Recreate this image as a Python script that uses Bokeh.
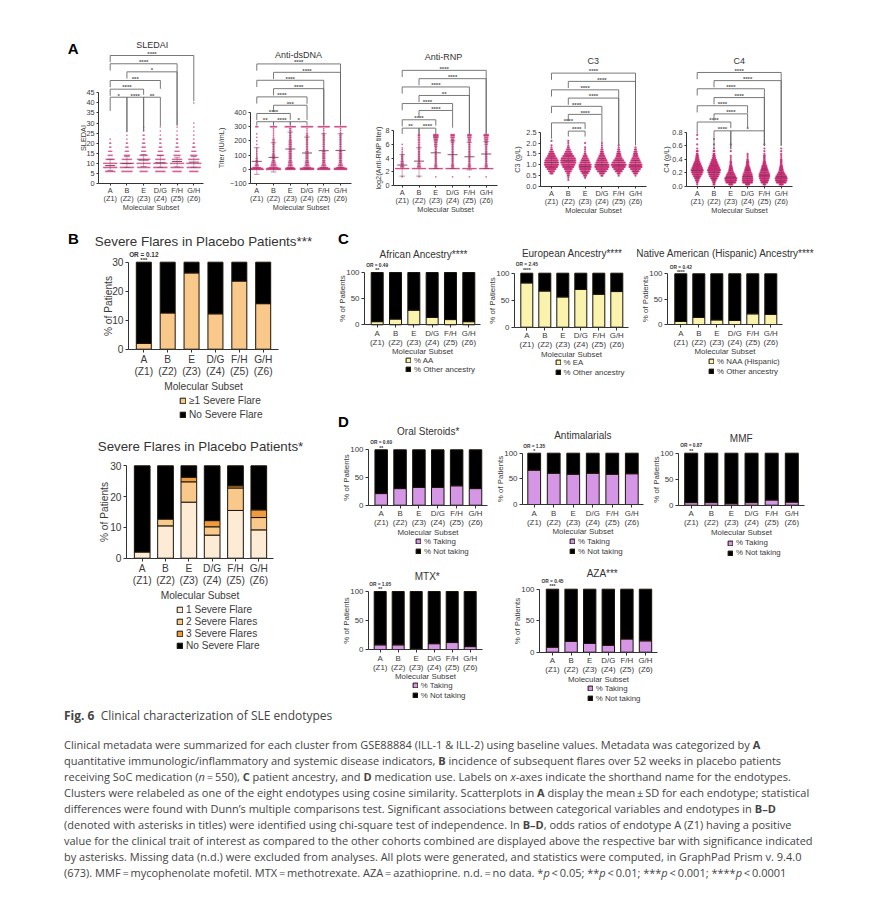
from bokeh.plotting import figure
from bokeh.models import Label, Legend, LegendItem, FixedTicker, Div, ColumnDataSource, Range1d, LinearAxis
from bokeh.layouts import row, column
from bokeh.embed import file_html
from bokeh.resources import INLINE
from bokeh.core.properties import value

FONT = "Liberation Sans"
INK = "#3a3a3a"
categories = ["A", "B", "E", "D/G", "F/H", "G/H"]
zones = ["(Z1)", "(Z2)", "(Z3)", "(Z4)", "(Z5)", "(Z6)"]

# ---- Panel A: swarm profiles (value levels, and dots per level in each subset), mean and SD
sledai_levels = [6, 8, 10, 12, 14, 16, 18, 20, 22, 24, 26, 28, 30, 40]
sledai_counts = [
    [10, 14, 14, 9, 5, 4, 2, 2, 1, 0, 0, 0, 0, 0],
    [11, 14, 14, 10, 6, 4, 3, 2, 1, 1, 0, 0, 0, 0],
    [8, 13, 14, 13, 8, 5, 4, 3, 2, 2, 1, 1, 0, 0],
    [10, 14, 14, 10, 7, 5, 3, 2, 2, 1, 1, 1, 0, 0],
    [9, 13, 14, 10, 7, 5, 3, 2, 2, 1, 1, 1, 0, 0],
    [9, 14, 15, 11, 7, 5, 3, 2, 1, 1, 1, 1, 1, 1],
]
sledai_mean = [8.9, 9.9, 11.6, 10.3, 10.9, 10.6]
sledai_hi = [12.0, 13.4, 14.4, 13.9, 13.0, 13.4]
sledai_lo = [6.4, 8.0, 8.4, 8.0, 8.2, 8.0]

dsdna_levels = [0, 6, 12, 25, 37, 50, 62, 75, 87, 100, 112, 125, 137, 150, 162, 175, 187, 200, 212, 225, 237, 250, 262, 275, 287, 300]
dsdna_counts = [
    [14, 12, 8, 4, 3, 2, 2, 2, 1, 1, 1, 1, 1, 1, 0, 1, 0, 1, 0, 1, 0, 1, 0, 0, 0, 3],
    [15, 14, 9, 6, 5, 4, 3, 3, 3, 3, 2, 2, 2, 2, 2, 2, 2, 2, 2, 1, 1, 1, 1, 1, 1, 7],
    [10, 10, 7, 5, 4, 4, 3, 3, 3, 3, 3, 3, 3, 3, 3, 3, 3, 3, 2, 2, 2, 2, 2, 2, 2, 11],
    [14, 14, 8, 5, 4, 4, 3, 3, 3, 3, 3, 3, 2, 2, 2, 2, 2, 2, 2, 2, 2, 2, 1, 1, 1, 12],
    [13, 12, 8, 5, 4, 3, 3, 3, 3, 3, 3, 3, 2, 2, 2, 2, 2, 2, 2, 2, 2, 2, 1, 1, 1, 12],
    [13, 13, 8, 5, 4, 3, 3, 3, 3, 3, 3, 3, 2, 2, 2, 2, 2, 2, 2, 2, 2, 2, 1, 1, 1, 12],
]
dsdna_mean = [56, 84, 143, 115, 131, 133]
dsdna_hi = [152, 187, 262, 227, 250, 250]
dsdna_lo = [-35, -19, 5, 3, 10, 12]

rnp_levels = [1.3, 2.5, 2.75, 3, 3.25, 3.5, 3.75, 4, 4.25, 4.5, 4.75, 5, 5.25, 5.5, 5.75, 6, 6.25, 6.5, 6.75, 7, 7.25, 7.4]
rnp_counts = [
    [1, 14, 4, 3, 3, 3, 2, 2, 2, 2, 1, 1, 1, 1, 0, 1, 0, 0, 0, 0, 0, 0],
    [1, 14, 4, 3, 3, 2, 2, 2, 2, 2, 2, 2, 2, 2, 2, 2, 2, 2, 2, 2, 2, 2],
    [1, 14, 3, 3, 2, 2, 2, 2, 2, 2, 2, 2, 2, 2, 3, 3, 3, 4, 4, 5, 5, 5],
    [1, 14, 3, 3, 2, 2, 2, 2, 2, 2, 2, 2, 2, 2, 2, 2, 3, 3, 3, 4, 4, 4],
    [1, 14, 3, 3, 2, 2, 2, 2, 2, 2, 2, 2, 2, 2, 2, 2, 2, 3, 3, 4, 4, 4],
    [1, 14, 3, 3, 2, 2, 2, 2, 2, 2, 2, 2, 2, 2, 2, 3, 3, 3, 4, 4, 5, 5],
]
rnp_mean = [3.0, 3.57, 4.77, 4.5, 4.2, 4.6]
rnp_hi = [4.5, 5.5, 7.1, 6.5, 6.3, 6.4]
rnp_lo = [1.4, 1.4, 2.5, 2.5, 2.3, 2.5]

c3_levels = [0.3, 0.4, 0.5, 0.6, 0.7, 0.8, 0.9, 1.0, 1.1, 1.2, 1.3, 1.4, 1.5, 1.6, 1.7, 1.8, 1.9, 2.0, 2.1]
c3_counts = [
    [0, 0, 0, 3, 6, 9, 12, 14, 14, 13, 11, 8, 6, 4, 2, 1, 1, 0, 1],
    [1, 1, 2, 3, 6, 8, 11, 13, 15, 15, 14, 11, 8, 6, 4, 2, 1, 1, 1],
    [0, 1, 3, 6, 9, 11, 12, 12, 10, 8, 6, 4, 2, 1, 1, 1, 0, 1, 0],
    [0, 0, 2, 5, 9, 12, 14, 14, 12, 10, 8, 6, 4, 3, 2, 1, 1, 1, 0],
    [0, 0, 1, 3, 7, 10, 13, 15, 13, 10, 7, 5, 4, 3, 2, 1, 1, 0, 0],
    [0, 0, 1, 4, 7, 10, 13, 13, 11, 9, 7, 5, 4, 3, 2, 1, 0, 0, 0],
]
c3_mean = [1.10, 1.17, 0.92, 1.0, 0.98, 0.95]
c3_hi = [1.35, 1.42, 1.2, 1.28, 1.22, 1.2]
c3_lo = [0.87, 0.9, 0.65, 0.72, 0.74, 0.7]

c4_levels = [0.03, 0.06, 0.09, 0.12, 0.15, 0.18, 0.21, 0.24, 0.27, 0.30, 0.33, 0.36, 0.39, 0.42, 0.45, 0.48, 0.52, 0.56, 0.62, 0.70, 0.76]
c4_counts = [
    [1, 2, 4, 6, 9, 12, 14, 15, 13, 11, 9, 7, 5, 4, 3, 2, 2, 1, 1, 1, 1],
    [2, 3, 5, 8, 11, 13, 15, 16, 14, 12, 10, 8, 6, 4, 3, 2, 2, 1, 1, 1, 0],
    [5, 12, 14, 15, 12, 10, 7, 5, 4, 3, 2, 2, 1, 1, 1, 0, 1, 0, 1, 0, 0],
    [5, 12, 13, 13, 12, 11, 9, 7, 6, 4, 3, 3, 2, 1, 1, 1, 0, 0, 0, 0, 0],
    [3, 8, 10, 12, 13, 13, 11, 9, 7, 6, 4, 3, 2, 2, 2, 1, 1, 1, 1, 0, 0],
    [5, 12, 14, 15, 13, 10, 7, 5, 4, 3, 2, 2, 2, 1, 1, 1, 1, 1, 0, 0, 0],
]
c4_mean = [0.23, 0.21, 0.13, 0.15, 0.16, 0.14]
c4_hi = [0.32, 0.31, 0.2, 0.24, 0.26, 0.2]
c4_lo = [0.13, 0.11, 0.06, 0.05, 0.06, 0.07]

# Significance brackets: left subset, right subset, level, stars, left foot, right foot (None = short foot)
sledai_brackets = [
    (0, 5, 63.5, "****", None, 40.8), (0, 4, 59.4, "****", None, 28.8), (1, 4, 55.4, "*", None, 28.8),
    (0, 3, 51.1, "***", None, 47.0), (0, 2, 46.8, "****", None, 44.0),
    (0, 1, 42.8, "*", 36.0, 25.5), (1, 2, 42.8, "****", 25.5, 26.0), (2, 3, 42.8, "**", 26.0, 28.5),
]
dsdna_brackets = [
    (0, 5, 742, "****", None, 309), (1, 5, 683, "****", None, 309), (0, 4, 627, "****", None, 309),
    (1, 4, 568, "****", None, 309), (0, 3, 510, "****", None, 461), (1, 3, 451, "***", None, 348),
    (0, 2, 393, "****", None, 348), (0, 1, 335, "**", 309, 309), (1, 2, 335, "****", 309, 309), (2, 3, 335, "*", 309, 309),
]
rnp_brackets = [
    (0, 5, 16.7, "****", None, 7.5), (1, 5, 15.5, "****", None, 7.5), (0, 4, 14.3, "****", None, 7.5),
    (1, 4, 13.07, "**", None, 7.5), (0, 3, 11.9, "****", None, 10.9), (1, 3, 10.9, "****", None, 8.4),
    (0, 2, 9.55, "****", None, 8.7), (0, 1, 8.34, "**", 7.5, 7.5), (1, 2, 8.34, "****", 7.5, 7.5),
]
c3_brackets = [
    (0, 5, 5.22, "****", None, 1.9), (1, 5, 4.84, "****", None, 1.9), (0, 4, 4.45, "****", None, 1.9),
    (1, 4, 4.07, "****", None, 1.9), (0, 3, 3.69, "****", None, 3.35), (1, 3, 3.32, "****", None, 2.05),
    (0, 2, 2.93, "****", 2.2, 2.65), (1, 2, 2.55, "****", 2.3, 2.3),
]
c4_brackets = [
    (0, 5, 1.68, "****", None, 0.6), (1, 5, 1.56, "****", None, 0.6), (0, 4, 1.44, "****", None, 0.6),
    (1, 4, 1.31, "****", None, 0.6), (0, 3, 1.19, "****", None, 1.08), (1, 3, 1.07, "****", None, 0.87),
    (0, 2, 0.95, "****", 0.78, 0.86), (1, 2, 0.82, "****", 0.55, 0.55), (2, 4, 0.82, "*", 0.55, 0.6),
]

# ---- Panel B
severe_any = [2.0, 12.5, 26.3, 12.2, 23.5, 15.7]
severe_none = [28.0, 17.5, 3.7, 17.8, 6.5, 14.3]
flare_1 = [2.0, 10.5, 18.2, 7.5, 15.5, 9.2]
flare_2 = [0.0, 2.2, 6.6, 2.7, 7.3, 4.0]
flare_3 = [0.0, 0.0, 1.5, 2.0, 0.7, 2.5]
flare_0 = [28.0, 17.3, 3.7, 17.8, 6.5, 14.3]

# ---- Panels C and D
african = [6, 11, 28, 14, 10, 6]
european = [82, 67, 56, 70, 61, 66]
native = [6, 14, 9, 8, 21, 20]
steroids = [21, 30, 32, 32, 35, 30]
antimalarials = [67, 61, 59, 61, 59, 60]
mmf = [5, 5, 3, 5, 10, 6]
mtx = [8, 8, 1, 10, 12, 5]
aza = [8, 17, 14, 11, 21, 18]

caption_lines = [
    "Clinical metadata were summarized for each cluster from GSE88884 (ILL-1 &amp; ILL-2) using baseline values. Metadata was categorized by <b>A</b>",
    "quantitative immunologic/inflammatory and systemic disease indicators, <b>B</b> incidence of subsequent flares over 52 weeks in placebo patients",
    "receiving SoC medication (<i>n</i>&#8201;=&#8201;550), <b>C</b> patient ancestry, and <b>D</b> medication use. Labels on <i>x</i>-axes indicate the shorthand name for the endotypes.",
    "Clusters were relabeled as one of the eight endotypes using cosine similarity. Scatterplots in <b>A</b> display the mean&#8201;&#177;&#8201;SD for each endotype; statistical",
    "differences were found with Dunn&#8217;s multiple comparisons test. Significant associations between categorical variables and endotypes in <b>B&#8211;D</b>",
    "(denoted with asterisks in titles) were identified using chi-square test of independence. In <b>B&#8211;D</b>, odds ratios of endotype A (Z1) having a positive",
    "value for the clinical trait of interest as compared to the other cohorts combined are displayed above the respective bar with significance indicated",
    "by asterisks. Missing data (n.d.) were excluded from analyses. All plots were generated, and statistics were computed, in GraphPad Prism v. 9.4.0",
    "(673). MMF&#8201;=&#8201;mycophenolate mofetil. MTX&#8201;=&#8201;methotrexate. AZA&#8201;=&#8201;azathioprine. n.d.&#8201;=&#8201;no data. *<i>p</i>&#8201;&lt;&#8201;0.05; **<i>p</i>&#8201;&lt;&#8201;0.01; ***<i>p</i>&#8201;&lt;&#8201;0.001; ****<i>p</i>&#8201;&lt;&#8201;0.0001",
]

geom = {}


def style_axis(ax, tick_size):
    ax.axis_line_color = "#333333"
    ax.axis_line_width = 1
    ax.major_tick_line_color = "#333333"
    ax.major_tick_line_width = 1
    ax.major_tick_out = 3
    ax.major_tick_in = 0
    ax.minor_tick_line_color = None
    ax.major_label_text_font = FONT
    ax.major_label_text_font_size = f"{tick_size}px"
    ax.major_label_text_color = INK
    ax.major_label_standoff = 2
    ax.axis_label_text_font = FONT
    ax.axis_label_text_font_style = "normal"
    ax.axis_label_text_font_size = f"{tick_size}px"
    ax.axis_label_text_color = INK


def base(cell, frame_x, x_a, x_g, y0_px, y1_px, y0, y1, yticks, title, title_xy, title_size, tick_size,
         ylabel, ylabel_standoff, tick_out, label_gap, line_dy, xlabel_standoff, fmt=None):
    cx0, cx1, cy0, cy1 = cell
    fx0, fx1 = frame_x
    sp = (x_g - x_a) / 5
    upp = (y1 - y0) / (y0_px - y1_px)
    to_x = lambda px: (px - x_a) / sp
    to_y = lambda px: y0 + (y0_px - px) * upp
    p = figure(width=cx1 - cx0, height=cy1 - cy0, output_backend="svg", toolbar_location=None,
               x_range=Range1d(to_x(cx0), to_x(cx1)), y_range=Range1d(to_y(cy1), to_y(cy0)),
               min_border=0, frame_align=False, background_fill_color="white", border_fill_color="white")
    p.outline_line_color = None
    p.grid.visible = False
    p.xaxis.fixed_location = y0
    p.yaxis.fixed_location = to_x(fx0)
    p.xaxis.bounds = (to_x(fx0), to_x(fx1))
    p.yaxis.bounds = (y0, y1)
    p.xaxis.ticker = FixedTicker(ticks=list(range(6)))
    p.xaxis.major_label_overrides = {i: t for i, t in enumerate(categories)}
    p.yaxis.ticker = FixedTicker(ticks=yticks)
    if fmt:
        p.yaxis.major_label_overrides = {t: fmt % t for t in yticks}
    p.yaxis.axis_label = ylabel
    p.yaxis.axis_label_standoff = ylabel_standoff
    style_axis(p.xaxis[0], tick_size)
    style_axis(p.yaxis[0], tick_size)
    p.xaxis.major_tick_out = tick_out
    p.yaxis.major_tick_out = tick_out
    p.xaxis.major_label_standoff = label_gap
    # second line of the tick labels and the axis title sit on a label-only axis
    ax2 = LinearAxis(fixed_location=y0, ticker=FixedTicker(ticks=list(range(6))),
                     bounds=(to_x(fx0), to_x(fx1)),
                     major_label_overrides={i: t for i, t in enumerate(zones)},
                     axis_label="Molecular Subset", axis_label_standoff=xlabel_standoff)
    style_axis(ax2, tick_size)
    ax2.axis_line_color = None
    ax2.major_tick_line_color = None
    ax2.major_tick_out = 0
    ax2.major_label_standoff = tick_out + label_gap + line_dy
    p.add_layout(ax2, "below")
    geom[p.id] = dict(sp=sp, upp=upp, to_x=to_x, to_y=to_y)
    p.add_layout(Label(x=to_x(title_xy[0]), y=to_y(title_xy[1]), text=title, text_font=FONT, text_font_size=f"{title_size}px",
                       text_color="#333333", text_align="center", text_baseline="middle"))
    return p


def letter(p, txt, x_px, y_px):
    g = geom[p.id]
    p.add_layout(Label(x=g["to_x"](x_px), y=g["to_y"](y_px), text=txt, text_font=FONT, text_font_style="bold",
                       text_font_size="15px", text_color="black", text_align="center", text_baseline="middle"))


def swarm(cell, frame_x, x_a, x_g, y0_px, y1_px, y0, y1, yticks, title, title_xy, ylabel, levels, counts,
          mean, hi, lo, brackets, dot_alpha=0.85, dot_size=1.7, dot_gap=1.0, fmt=None, y_standoff=1):
    p = base(cell, frame_x, x_a, x_g, y0_px, y1_px, y0, y1, yticks, title, title_xy, 9, 7.3, ylabel, y_standoff, 2, 0, 8, -3, fmt)
    sp, upp = geom[p.id]["sp"], geom[p.id]["upp"]
    xs, ys = [], []
    for i, cnt in enumerate(counts):
        for lv, n in zip(levels, cnt):
            for k in range(n):
                xs.append(i + (k - (n - 1) / 2) * dot_gap / sp)
                ys.append(lv)
    p.scatter(xs, ys, size=dot_size, color="#c8256f", alpha=dot_alpha, line_width=0)
    idx = list(range(6))
    col = "#7a3b5a"
    p.segment([i - 0.3 for i in idx], mean, [i + 0.3 for i in idx], mean, line_color=col, line_width=0.9)
    p.segment([i - 0.17 for i in idx], hi, [i + 0.17 for i in idx], hi, line_color=col, line_width=0.7, line_alpha=0.8)
    p.segment([i - 0.17 for i in idx], lo, [i + 0.17 for i in idx], lo, line_color=col, line_width=0.7, line_alpha=0.8)
    p.segment(idx, lo, idx, hi, line_color=col, line_width=0.6, line_alpha=0.7)
    bx, by, tx, ty, tt = [], [], [], [], []
    for a, b, lv, stars, lf, rf in brackets:
        lf = lv - 6.7 * upp if lf is None else lf
        bx.append([a, a, b, b])
        by.append([lf, lv, lv, rf])
        tx.append((a + b) / 2)
        ty.append(lv + 1.7 * upp)
        tt.append(stars)
    p.multi_line(bx, by, line_color="#6a6a6a", line_width=0.9)
    p.text(tx, ty, text=tt, text_font=value(FONT), text_font_style="bold", text_font_size="6px", text_color="#555555",
           text_align="center", text_baseline="middle")
    return p


def bars(cell, frame_x, x_a, x_g, y0_px, y1_px, yticks, y1, title, title_xy, title_size, tick_size, series, colors, labels,
         bar_px, leg, or_txt, stars, or_y, star_y, or_size, star_size, y_standoff, legend_size=6, legend_px=7.9):
    big = tick_size > 9
    p = base(cell, frame_x, x_a, x_g, y0_px, y1_px, 0, y1, yticks, title, title_xy, title_size, tick_size,
             "% of Patients", y_standoff, 3, 2 if big else 1, 12 if big else 9, 0 if big else -3)
    g = geom[p.id]
    bottom = [0.0] * 6
    items = []
    for vals, colr, lab in zip(series, colors, labels):
        top = [b + v for b, v in zip(bottom, vals)]
        keep = [i for i, v in enumerate(vals) if v > 0]
        src = ColumnDataSource(dict(x=keep, b=[bottom[i] for i in keep], t=[top[i] for i in keep]))
        r = p.vbar(x="x", bottom="b", top="t", width=bar_px / g["sp"], source=src, fill_color=colr, line_color="#1c1408", line_width=1)
        items.append(LegendItem(label=lab, renderers=[r]))
        bottom = top
    lx, ly, dy = leg
    n = len(items)
    lg = Legend(items=items, location=(lx - cell[0], cell[3] - (ly + (n - 1) * dy) - dy / 2), orientation="vertical", padding=0, margin=0,
                spacing=0, glyph_width=legend_size, glyph_height=legend_size, label_height=round(dy), label_standoff=3,
                label_text_font=FONT, label_text_font_size=f"{legend_px}px", label_text_color=INK,
                background_fill_alpha=0, border_line_color=None)
    p.add_layout(lg)
    if or_txt:
        p.add_layout(Label(x=0, y=g["to_y"](or_y), text=or_txt, text_font=FONT, text_font_style="bold", text_font_size=f"{or_size}px",
                           text_color="#333333", text_align="center", text_baseline="middle"))
        p.add_layout(Label(x=0, y=g["to_y"](star_y), text=stars, text_font=FONT, text_font_style="bold", text_font_size=f"{star_size}px",
                           text_color="#333333", text_align="center", text_baseline="middle"))
    return p


CREAM = "#FAF3AE"
PURPLE = "#D596E6"
PEACH = "#F9C98B"

a1 = swarm((8, 213, 8, 226), (98, 203), 109.7, 193.3, 183, 92.3, 0, 45, list(range(0, 46, 5)), "SLEDAI", (151.7, 44), "SLEDAI",
           sledai_levels, sledai_counts, sledai_mean, sledai_hi, sledai_lo, sledai_brackets, dot_alpha=0.6, y_standoff=-5)
a2 = swarm((213, 370, 8, 226), (250, 351), 256.3, 340, 183, 112, -100, 400, list(range(-100, 401, 100)), "Anti-dsDNA", (298, 54.3), "Titer (IU/mL)",
           dsdna_levels, dsdna_counts, dsdna_mean, dsdna_hi, dsdna_lo, dsdna_brackets, dot_alpha=0.7)
a3 = swarm((370, 512, 8, 226), (393, 497), 401.7, 485.7, 185.3, 130, 0, 8, [0, 2, 4, 6, 8], "Anti-RNP", (443, 56), "log2(Anti-RNP titer)",
           rnp_levels, rnp_counts, rnp_mean, rnp_hi, rnp_lo, rnp_brackets, dot_alpha=0.7, y_standoff=-1)
a4 = swarm((512, 658, 8, 226), (540, 646), 551, 635, 186, 131.7, 0, 2.5, [0, 0.5, 1, 1.5, 2, 2.5], "C3", (592.7, 60.7), "C3 (g/L)",
           c3_levels, c3_counts, c3_mean, c3_hi, c3_lo, c3_brackets, fmt="%.1f", dot_size=2.2)
a5 = swarm((658, 862, 8, 226), (686, 792), 696.7, 780.7, 186, 131.7, 0, 0.8, [0, 0.2, 0.4, 0.6, 0.8], "C4", (738.7, 60.7), "C4 (g/L)",
           c4_levels, c4_counts, c4_mean, c4_hi, c4_lo, c4_brackets, fmt="%.1f", dot_size=2.2, dot_gap=0.8, y_standoff=-2)
letter(a1, "A", 72.7, 48)

b1 = bars((8, 330, 226, 430), (128, 278), 143.3, 262.7, 348.7, 261.7, [0, 10, 20, 30], 30,
          "Severe Flares in Placebo Patients***", (203, 241), 13.4, 10.2, [severe_any, severe_none], [PEACH, "black"],
          ["\u22651 Severe Flare", "No Severe Flare"], 15, (179, 400, 14), "OR = 0.12", "***", 253.7, 259.7, 6.4, 6, -5,
          legend_size=7, legend_px=10.1)
letter(b1, "B", 73, 237.7)
b2 = bars((8, 330, 430, 704), (126, 273), 141.7, 258.3, 557.7, 465.3, [0, 10, 20, 30], 30,
          "Severe Flares in Placebo Patients*", (200, 445.7), 13.3, 10.2, [flare_1, flare_2, flare_3, flare_0], ["#FDEBD6", PEACH, "#EE9A3F", "black"],
          ["1 Severe Flare", "2 Severe Flares", "3 Severe Flares", "No Severe Flare"], 15.7, (176, 609, 12), None, None, 0, 0, 0, 0, -3,
          legend_size=7, legend_px=10.1)

c1 = bars((330, 482, 226, 410), (364, 480), 376.7, 468.3, 324.3, 272, [0, 50, 100], 100, "African Ancestry****", (423.3, 254.3), 10, 7.9,
          [african, [100 - v for v in african]], [CREAM, "black"], ["% AA", "% Other ancestry"], 12, (405, 360, 9),
          "OR = 0.49", "**", 265, 269.7, 4.8, 5, -4)
letter(c1, "C", 343, 237.7)
c2 = bars((482, 636, 226, 410), (514, 628), 526.3, 616.3, 326.7, 272.7, [0, 50, 100], 100, "European Ancestry****", (571.7, 253.3), 10, 7.9,
          [european, [100 - v for v in european]], [CREAM, "black"], ["% EA", "% Other ancestry"], 12, (554.5, 362, 10),
          "OR = 2.45", "****", 264.3, 269.3, 4.8, 5, -4)
c3 = bars((636, 862, 226, 410), (667, 782), 680.3, 770.3, 324, 273.3, [0, 50, 100], 100, "Native American (Hispanic) Ancestry****", (725, 253.3), 10, 7.9,
          [native, [100 - v for v in native]], [CREAM, "black"], ["% NAA (Hispanic)", "% Other ancestry"], 12, (708, 361, 10),
          "OR = 0.42", "****", 266.7, 271, 4.8, 5, -4)

d1 = bars((330, 490, 410, 562), (368, 487), 380.7, 475, 504.7, 449.3, [0, 50, 100], 100, "Oral Steroids*", (427.7, 431), 10, 7.9,
          [steroids, [100 - v for v in steroids]], [PURPLE, "black"], ["% Taking", "% Not taking"], 12.5, (415, 541, 10),
          "OR = 0.60", "**", 442.3, 447, 4.8, 5, -4)
letter(d1, "D", 343, 420.7)
d2 = bars((490, 648, 410, 562), (522, 643), 533.7, 631.3, 504, 452.7, [0, 50, 100], 100, "Antimalarials", (582.3, 435.3), 10, 7.9,
          [antimalarials, [100 - v for v in antimalarials]], [PURPLE, "black"], ["% Taking", "% Not taking"], 12.8, (569, 541, 10),
          "OR = 1.35", "*", 446, 450.5, 4.8, 5, -4)
d3 = bars((648, 862, 410, 562), (678, 804), 690.7, 791.3, 504.7, 452.7, [0, 50, 100], 100, "MMF", (740.7, 437.7), 10, 7.9,
          [mmf, [100 - v for v in mmf]], [PURPLE, "black"], ["% Taking", "% Not taking"], 13, (727, 542.7, 10),
          "OR = 0.87", "**", 445, 450, 4.8, 5, -4)
d4 = bars((330, 510, 562, 704), (368, 482), 379.7, 469.7, 649, 591, [0, 50, 100], 100, "MTX*", (426.7, 576), 10, 7.9,
          [mtx, [100 - v for v in mtx]], [PURPLE, "black"], ["% Taking", "% Not taking"], 12, (411.7, 685, 10),
          "OR = 1.05", "**", 583.7, 588, 4.8, 5, -4)
d5 = bars((510, 862, 562, 704), (539, 657), 552, 645, 651.7, 588.7, [0, 50, 100], 100, "AZA***", (601.7, 572.7), 10, 7.9,
          [aza, [100 - v for v in aza]], [PURPLE, "black"], ["% Taking", "% Not taking"], 12.4, (586.7, 688.3, 10),
          "OR = 0.45", "***", 580.7, 585.5, 4.8, 5, -4)

caption_html = (
    '<div style="font-family:\'Open Sans\';font-size:11px;line-height:16px;color:#444;letter-spacing:0;'
    'white-space:nowrap;padding:4px 0 0 56px;">'
    '<div style="font-size:12px;"><b>Fig. 6</b>&nbsp; Clinical characterization of SLE endotypes</div>'
    '<div style="height:13px"></div>' + "<br>".join(caption_lines) + "</div>"
)
caption = Div(text=caption_html, width=854, height=185, margin=(0, 0, 0, 0))

left = column(b1, b2, spacing=0)
right = column(row(c1, c2, c3, spacing=0), row(d1, d2, d3, spacing=0), row(d4, d5, spacing=0), spacing=0)
p = column(row(a1, a2, a3, a4, a5, spacing=0), row(left, right, spacing=0), caption, spacing=0, margin=(8, 0, 0, 8))

open("out.html", "w").write(file_html(p, INLINE))
